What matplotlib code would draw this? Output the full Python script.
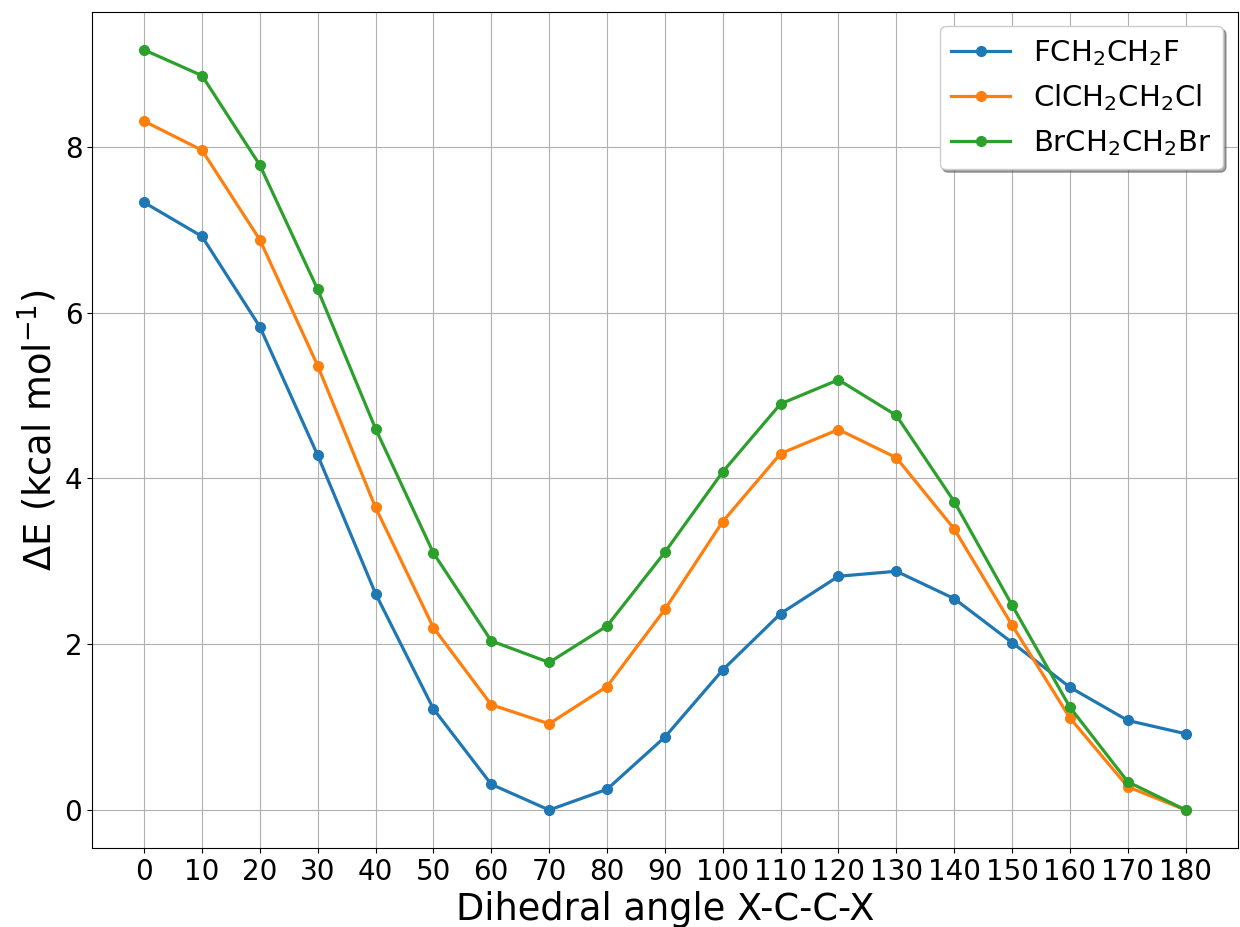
import matplotlib
matplotlib.use("Agg")
import matplotlib.pyplot as plt

angles = list(range(0, 181, 10))
e_f = [7.33, 6.92, 5.83, 4.28, 2.61, 1.22, 0.31, 0.0, 0.25, 0.88, 1.69, 2.37, 2.82, 2.88, 2.55, 2.02, 1.48, 1.08, 0.92]
e_cl = [8.31, 7.96, 6.88, 5.36, 3.65, 2.20, 1.27, 1.04, 1.49, 2.42, 3.48, 4.30, 4.59, 4.25, 3.39, 2.23, 1.11, 0.28, 0.0]
e_br = [9.17, 8.86, 7.78, 6.28, 4.60, 3.10, 2.04, 1.78, 2.22, 3.11, 4.08, 4.90, 5.19, 4.76, 3.72, 2.47, 1.24, 0.34, 0.0]
labels = [r"FCH$_2$CH$_2$F", r"ClCH$_2$CH$_2$Cl", r"BrCH$_2$CH$_2$Br"]

fig = plt.figure(figsize=(12.4, 9.27), dpi=100)
ax = fig.add_axes([0.0742, 0.0852, 0.924, 0.902])
for y, lab in zip([e_f, e_cl, e_br], labels):
    ax.plot(angles, y, marker="o", lw=2.3, ms=7, label=lab)
ax.set_xticks(angles)
ax.tick_params(labelsize=20)
ax.grid(True)
ax.set_xlabel("Dihedral angle X-C-C-X", fontsize=26.5)
ax.set_ylabel(r"$\Delta$E (kcal mol$^{-1}$)", fontsize=26.5)
ax.legend(fontsize=21, shadow=True, loc="upper right")
fig.savefig("out.png", dpi=100)
